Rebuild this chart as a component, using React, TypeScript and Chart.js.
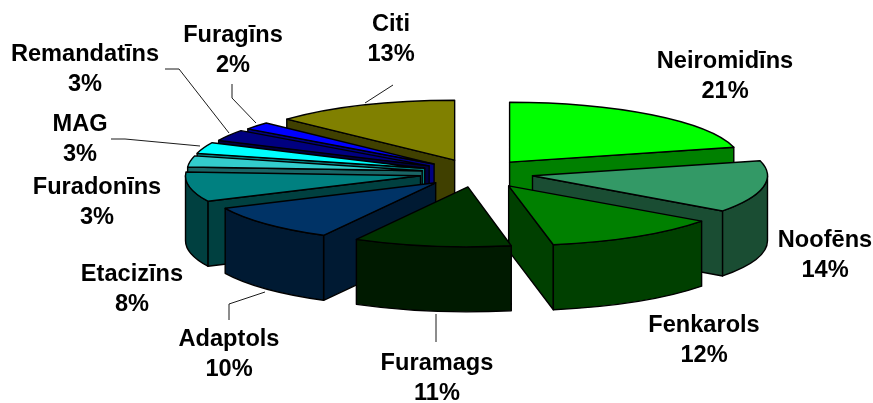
import React, { useEffect, useRef } from "react";
import { Chart, registerables } from "chart.js";

Chart.register(...registerables);

const categories = ["Neiromidīns", "Noofēns", "Fenkarols", "Furamags", "Adaptols", "Etacizīns", "Furadonīns", "MAG", "Remandatīns", "Furagīns", "Citi"];
const shares = [21, 14, 12, 11, 10, 8, 3, 3, 3, 2, 13];
const topColors = ["#00FF00", "#339966", "#008000", "#003300", "#003366", "#008080", "#33CCCC", "#00FFFF", "#000080", "#0000FF", "#808000"];
const wallColors = ["#008000", "#1A4D33", "#004000", "#001A00", "#001A33", "#004040", "#1A6666", "#008080", "#000040", "#000080", "#404000"];
const explode = [54, 57, 60, 55, 56, 57, 55, 55, 55, 55, 55];
const perspective = [0.985, 1, 1.015, 0.985, 0.99, 1, 1, 1, 0.99, 0.98, 0.98];

const labelCentres: [number, number][] = [
  [725, 61], [825, 240], [704, 325], [437, 363], [229, 339], [132, 274], [97, 187], [80, 124], [85, 54], [233, 35], [391, 24],
];
const labelLineGap = 30.5;
const leaders: [number, number][][] = [
  [[436, 314], [436, 342]],
  [[229, 320], [229, 304], [265, 292]],
  [[111, 139], [125, 139], [200, 146]],
  [[165, 69], [179, 69], [229, 133]],
  [[232, 84], [232, 98], [256, 123]],
  [[365, 103], [393, 85]],
];

const centreX = 476.5;
const centreY = 173;
const radius = 235;
const squash = 0.255;
const depth = 65;
const TAU = Math.PI * 2;

const pie3d = {
  id: "pie3d",
  beforeDatasetsDraw(chart: any) {
    const ctx = chart.ctx;
    const arcs: any[] = chart.getDatasetMeta(0).data;
    const order = arcs
      .map((arc, i) => ({ arc, i, mid: (arc.startAngle + arc.endAngle) / 2 }))
      .sort((a, b) => Math.sin(a.mid) - Math.sin(b.mid));

    for (const { arc, i, mid } of order) {
      const f = perspective[i];
      const r = arc.outerRadius * f;
      const ry = arc.outerRadius * squash;
      const ax = centreX + Math.cos(mid) * explode[i];
      const ay = centreY + Math.sin(mid) * explode[i] * squash;
      const a0 = arc.startAngle;
      const a1 = arc.endAngle;
      ctx.save();
      ctx.lineWidth = 1.4;
      ctx.lineJoin = "round";
      ctx.strokeStyle = "#000";
      ctx.fillStyle = wallColors[i];

      const face = (a: number) => {
        ctx.beginPath();
        ctx.moveTo(ax, ay);
        ctx.lineTo(ax + Math.cos(a) * r, ay + Math.sin(a) * ry);
        ctx.lineTo(ax + Math.cos(a) * r, ay + Math.sin(a) * ry + depth);
        ctx.lineTo(ax, ay + depth);
        ctx.closePath();
        ctx.fill();
        ctx.stroke();
      };
      if (Math.cos(a0) < 0) face(a0);
      if (Math.cos(a1) > 0) face(a1);

      // outer wall: the part of the rim that faces the viewer
      for (const k of [-1, 0, 1]) {
        const from = Math.max(a0, k * TAU);
        const to = Math.min(a1, k * TAU + Math.PI);
        if (to > from) {
          ctx.beginPath();
          ctx.ellipse(ax, ay, r, ry, 0, from, to);
          ctx.ellipse(ax, ay + depth, r, ry, 0, to, from, true);
          ctx.closePath();
          ctx.fill();
          ctx.stroke();
        }
      }

      // top face, drawn by the library's arc element
      ctx.save();
      ctx.translate(ax, ay);
      ctx.scale(f, squash);
      ctx.translate(-arc.x, -arc.y);
      arc.draw(ctx);
      ctx.restore();

      ctx.beginPath();
      ctx.moveTo(ax, ay);
      ctx.ellipse(ax, ay, r, ry, 0, a0, a1);
      ctx.closePath();
      ctx.stroke();
      ctx.restore();
    }
    return false;
  },
  afterDraw(chart: any) {
    const ctx = chart.ctx;
    ctx.save();
    ctx.strokeStyle = "#000";
    ctx.lineWidth = 0.9;
    for (const line of leaders) {
      ctx.beginPath();
      line.forEach(([x, y], n) => (n ? ctx.lineTo(x, y) : ctx.moveTo(x, y)));
      ctx.stroke();
    }
    ctx.fillStyle = "#000";
    ctx.font = 'bold 23.6px "Liberation Sans"';
    ctx.textAlign = "center";
    ctx.textBaseline = "middle";
    categories.forEach((name, i) => {
      const [x, y] = labelCentres[i];
      ctx.fillText(name, x, y);
      ctx.fillText(`${shares[i]}%`, x, y + labelLineGap);
    });
    ctx.restore();
  },
};

export default function App() {
  const ref = useRef<HTMLCanvasElement>(null);
  useEffect(() => {
    const chart = new Chart(ref.current!, {
      type: "pie",
      data: {
        labels: categories,
        datasets: [{ data: shares, backgroundColor: topColors, borderWidth: 0, radius }],
      },
      options: {
        animation: false,
        responsive: false,
        plugins: { legend: { display: false }, tooltip: { enabled: false } },
      },
      plugins: [pie3d],
    } as any);
    return () => chart.destroy();
  }, []);
  return (
    <div style={{ position: "fixed", left: 0, top: 0, width: 873, height: 403, background: "#fff" }}>
      <canvas ref={ref} width={873} height={403} style={{ display: "block" }} />
    </div>
  );
}
